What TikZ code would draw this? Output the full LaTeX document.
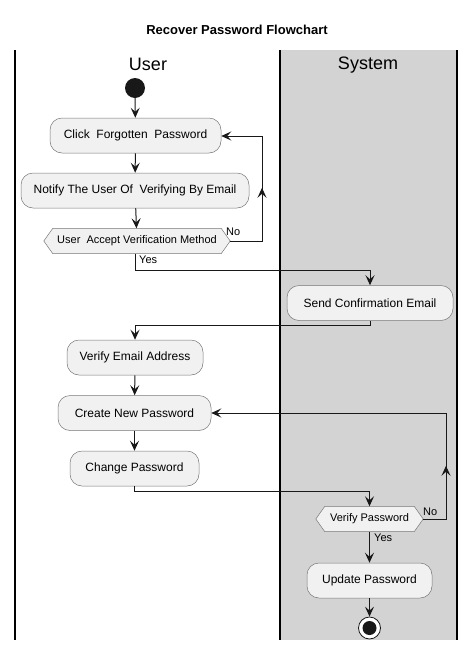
\documentclass[tikz,border=0pt]{standalone}
\usepackage{fontspec}
\setmainfont{Liberation Sans}
\usetikzlibrary{arrows.meta,decorations.markings,calc}
\pgfdeclarelayer{lane}
\pgfdeclarelayer{background}
\pgfsetlayers{lane,background,main}
\definecolor{lanegray}{HTML}{D3D3D3}
\definecolor{boxfill}{HTML}{F1F1F1}
\definecolor{boxline}{HTML}{777777}
\definecolor{ink}{HTML}{181818}
\tikzset{
  x=1pt, y=-1pt,
  tip/.style={-{Stealth[length=10pt,width=9pt,inset=4pt]}},
  flow/.style={draw=ink, line width=1pt, tip},
  act/.style={draw=boxline, fill=boxfill, line width=0.5pt, rounded corners=12pt,
    minimum height=35pt, inner sep=0pt, font=\fontsize{12}{14}\selectfont},
  dec/.style={inner sep=0pt, minimum height=25pt, font=\fontsize{11}{13}\selectfont},
  lbl/.style={inner sep=0pt, font=\fontsize{11}{13}\selectfont},
  lanehead/.style={font=\fontsize{18}{20}\selectfont},
  laneline/.style={draw=black, line width=1.5pt},
  midarrow/.style={postaction={decorate, decoration={markings,
    mark=at position #1 with {\arrow{Stealth[length=10pt,width=9pt,inset=4pt]}}}}}
}
\newcommand{\hexa}[1]{%
  \begin{pgfonlayer}{background}
  \draw[draw=boxline, fill=boxfill, line width=0.5pt]
    (#1.west) -- ([xshift=9pt]#1.north west) -- ([xshift=-9pt]#1.north east)
    -- (#1.east) -- ([xshift=-9pt]#1.south east) -- ([xshift=9pt]#1.south west) -- cycle;
  \end{pgfonlayer}}
\begin{document}
\begin{tikzpicture}
\useasboundingbox (0,0) rectangle (475,651);
% lanes
\begin{pgfonlayer}{lane}
\fill[lanegray] (280,50) rectangle (457,640);
\end{pgfonlayer}
\draw[laneline] (15,50) -- (15,640);
\draw[laneline] (280,50) -- (280,640);
\draw[laneline] (457,50) -- (457,640);
% title and headers
\node[font=\fontsize{13}{15}\selectfont\bfseries] (title) at (237,30) {Recover Password Flowchart};
\node[lanehead] (huser) at (148,64) {User};
\node[lanehead] (hsys) at (368,65) {System};
% start
\node[circle, fill=ink, minimum size=20pt, inner sep=0pt] (start) at (135,88) {};
% activities
\node[act, minimum width=171pt] (click) at (135.5,135.5) {Click\ \ Forgotten\ \ Password};
\node[act, minimum width=228pt] (notify) at (135,190.5) {Notify The User Of\ \ Verifying By Email};
\node[dec, minimum width=186pt] (d1) at (137,241) {User\ \ Accept Verification Method};
\hexa{d1}
\node[act, minimum width=166pt] (send) at (370,303) {Send Confirmation Email};
\node[act, minimum width=136pt] (verify) at (135,357.5) {Verify Email Address};
\node[act, minimum width=153pt] (create) at (134.5,413) {Create New Password};
\node[act, minimum width=129pt] (change) at (134.5,468.5) {Change Password};
\node[dec, minimum width=107pt] (d2) at (369.5,519) {Verify Password};
\hexa{d2}
\node[act, minimum width=125pt] (update) at (369.5,580.5) {Update Password};
% end
\node[circle, draw=ink, fill=white, line width=0.8pt, minimum size=22pt, inner sep=0pt] (stop) at (369.5,628) {};
\fill[ink] (stop.center) circle (7pt);
% flows
\draw[flow] (start) -- (click);
\draw[flow] (click) -- (notify);
\draw[flow] (notify) -- (d1);
\draw[flow, midarrow=85pt] (d1.east) -- (262,241) -- (262,136) -- (click.east |- 0,136);
\node[lbl, anchor=west] (no1) at (226,232) {No};
\draw[flow] (d1.south -| 135,0) -- (135,270) -- (370,270) -- (send.north -| 370,0);
\node[lbl, anchor=west] (yes1) at (139,260) {Yes};
\draw[flow] (send.south) -- (370,325) -- (135,325) -- (verify.north -| 135,0);
\draw[flow] (verify) -- (create);
\draw[flow] (create) -- (change);
\draw[flow] (change.south) -- (134.5,491) -- (369.5,491) -- (d2.north);
\draw[flow, midarrow=76pt] (d2.east) -- (446,519) -- (446,413) -- (create.east);
\node[lbl, anchor=west] (no2) at (423,512) {No};
\draw[flow] (d2.south) -- (update.north);
\node[lbl, anchor=west] (yes2) at (374,538) {Yes};
\draw[flow] (update.south) -- (stop.north);
\end{tikzpicture}
\end{document}
